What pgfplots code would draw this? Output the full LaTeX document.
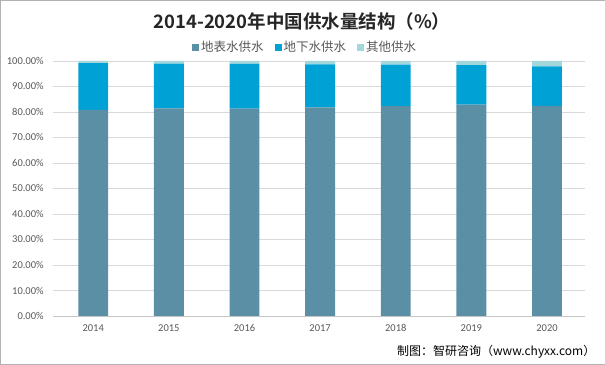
\documentclass[border=0pt]{standalone}
\usepackage{pgfplots}
\pgfplotsset{compat=1.18}
\usepackage{fontspec}
\setmainfont{Carlito}
\newfontfamily\cjk{Noto Sans CJK SC}
\newfontfamily\cjkb{Noto Sans CJK SC Bold}
\definecolor{surf}{RGB}{91,143,166}
\definecolor{grnd}{RGB}{0,162,214}
\definecolor{oth}{RGB}{163,215,220}
\definecolor{txt}{RGB}{89,89,89}
\begin{document}
\begin{tikzpicture}[x=1pt,y=1pt]
\draw[use as bounding box, draw=gray!60, fill=white] (0,0) rectangle (605,364);
\node[font=\cjkb\fontsize{18.5}{21}\selectfont, text=black!85] at (302,343) {2014-2020年中国供水量结构（\%）};
\node[anchor=east, font=\cjk\fontsize{12}{14}\selectfont] at (599,12) {制图：智研咨询（www.chyxx.com）};
\begin{axis}[
  at={(53pt,48pt)}, anchor=south west,
  scale only axis, width=532pt, height=255.3pt,
  ybar stacked, bar width=30pt,
  xmin=-0.53, xmax=6.5, ymin=0, ymax=100,
  xtick={0,...,6}, xticklabels={2014,2015,2016,2017,2018,2019,2020},
  ytick={0,10,...,100},
  yticklabels={0.00\%,10.00\%,20.00\%,30.00\%,40.00\%,50.00\%,60.00\%,70.00\%,80.00\%,90.00\%,100.00\%},
  ymajorgrids, grid style={draw=gray!30, line width=0.6pt},
  axis x line*=bottom, axis y line*=left,
  x axis line style={draw=gray!45, line width=0.6pt, -},
  y axis line style={draw=none},
  major tick length=0pt,
  tick label style={font=\fontsize{10.5}{13}\selectfont, text=txt},
  yticklabel style={anchor=east, xshift=-6pt},
  xticklabel style={yshift=-5pt},
  legend style={at={(0.474,1.054)}, anchor=center, draw=none, fill=none,
    legend columns=3, font=\cjk\fontsize{12.5}{14}\selectfont, text=txt,
    /tikz/every even column/.append style={column sep=9pt}},
  legend image code/.code={\fill[#1] (0pt,-3.5pt) rectangle (7pt,3.5pt);},
]
\addplot[fill=surf, draw=none] coordinates {(0,80.8) (1,81.4) (2,81.3) (3,81.8) (4,82.3) (5,82.8) (6,82.4)};
\addplot[fill=grnd, draw=none] coordinates {(0,18.3) (1,17.5) (2,17.5) (3,16.8) (4,16.2) (5,15.5) (6,15.4)};
\addplot[fill=oth, draw=none] coordinates {(0,0.9) (1,1.1) (2,1.2) (3,1.4) (4,1.5) (5,1.7) (6,2.2)};
\legend{地表水供水,地下水供水,其他供水}
\end{axis}
\end{tikzpicture}
\end{document}
